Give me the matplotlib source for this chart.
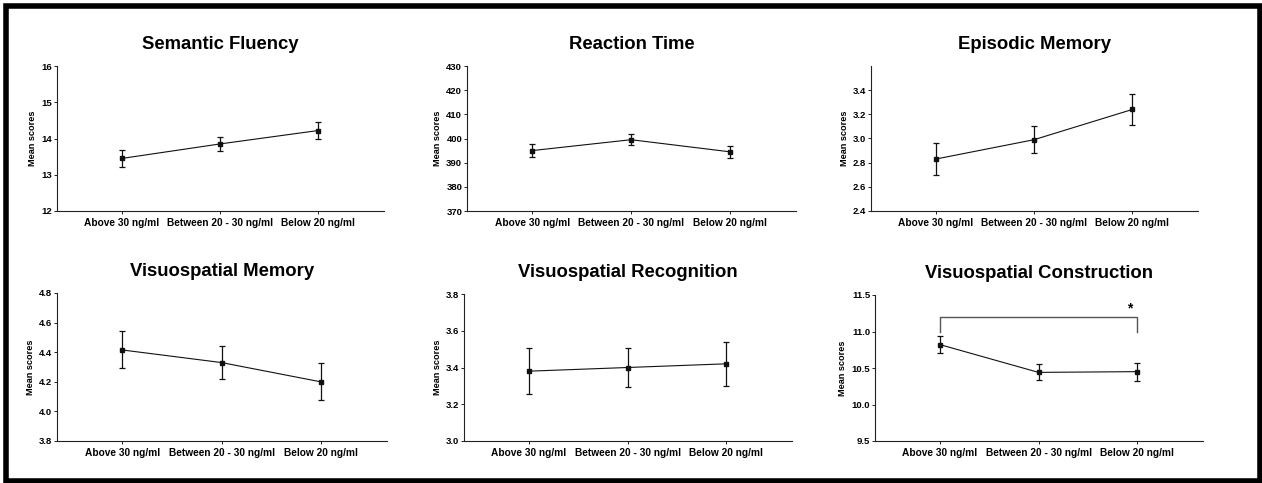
import matplotlib
matplotlib.use("Agg")
import matplotlib.pyplot as plt
from matplotlib.patches import Rectangle

plt.rcParams['font.family'] = ['Liberation Sans', 'DejaVu Sans']
plt.rcParams['font.weight'] = 'bold'

categories = ["Above 30 ng/ml", "Between 20 - 30 ng/ml", "Below 20 ng/ml"]

titles = ["Semantic Fluency", "Reaction Time", "Episodic Memory",
          "Visuospatial Memory", "Visuospatial Recognition", "Visuospatial Construction"]

semantic_mean = [13.45, 13.85, 14.22]
semantic_err = [0.23, 0.20, 0.23]
reaction_mean = [395.0, 399.5, 394.5]
reaction_err = [2.7, 2.3, 2.5]
episodic_mean = [2.83, 2.99, 3.24]
episodic_err = [0.13, 0.11, 0.125]
vsmem_mean = [4.415, 4.33, 4.20]
vsmem_err = [0.125, 0.11, 0.125]
vsrec_mean = [3.38, 3.40, 3.42]
vsrec_err = [0.125, 0.105, 0.12]
vscon_mean = [10.82, 10.44, 10.45]
vscon_err = [0.12, 0.11, 0.125]

means = [semantic_mean, reaction_mean, episodic_mean, vsmem_mean, vsrec_mean, vscon_mean]
errs = [semantic_err, reaction_err, episodic_err, vsmem_err, vsrec_err, vscon_err]

ylims = [(12, 16), (370, 430), (2.4, 3.6), (3.8, 4.8), (3.0, 3.8), (9.5, 11.5)]
yticks = [[12, 13, 14, 15, 16],
          [370, 380, 390, 400, 410, 420, 430],
          [2.4, 2.6, 2.8, 3.0, 3.2, 3.4],
          [3.8, 4.0, 4.2, 4.4, 4.6, 4.8],
          [3.0, 3.2, 3.4, 3.6, 3.8],
          [9.5, 10.0, 10.5, 11.0, 11.5]]
ytickfmt = ["{:.0f}", "{:.0f}", "{:.1f}", "{:.1f}", "{:.1f}", "{:.1f}"]

# significance bracket for Visuospatial Construction
sig_bracket_y = 11.2
sig_bracket_bottom = 11.0
sig_label = "*"

W, H = 1262, 483
fig = plt.figure(figsize=(W / 100, H / 100), dpi=100)

# axes boxes in pixels: (left, top, right, bottom)
boxes = [(57, 66, 384, 211), (467, 66, 796, 211), (871, 66, 1198, 211),
         (57, 293, 387, 441), (464, 294, 792, 441), (875, 295, 1203, 441)]

axc = '#222222'
for i, (l, t, r, b) in enumerate(boxes):
    ax = fig.add_axes([l / W, 1 - b / H, (r - l) / W, (b - t) / H])
    x = list(range(len(categories)))
    ax.errorbar(x, means[i], yerr=errs[i], color='#111111', lw=0.8, elinewidth=0.9,
                capsize=2, capthick=0.9, marker='s', markersize=2.2)
    ax.set_xlim(-0.66, 2.67)
    ax.set_ylim(*ylims[i])
    ax.set_yticks(yticks[i])
    ax.set_yticklabels([ytickfmt[i].format(v) for v in yticks[i]], fontsize=6.8, fontweight='bold')
    ax.set_xticks(x)
    ax.set_xticklabels(categories, fontsize=7.3, fontweight='bold')
    ax.spines['top'].set_visible(False)
    ax.spines['right'].set_visible(False)
    for s in ('left', 'bottom'):
        ax.spines[s].set_linewidth(0.8)
        ax.spines[s].set_color(axc)
    ax.tick_params(axis='y', length=2.5, width=0.7, pad=1, color=axc)
    ax.tick_params(axis='x', length=2.5, width=0.7, pad=2.5, color=axc)
    ax.set_ylabel("Mean scores", fontsize=6.6, fontweight='bold', labelpad=3)
    ax.set_title(titles[i], fontsize=13.3, fontweight='bold', pad=12)
    if i == 5:
        ax.plot([0, 0, 2, 2], [sig_bracket_bottom, sig_bracket_y, sig_bracket_y, sig_bracket_bottom],
                color='#555555', lw=1.0)
        ax.text(1.93, sig_bracket_y + 0.02, sig_label, ha='center', va='bottom',
                fontsize=10, fontweight='bold')

# outer frame
fig.patches.append(Rectangle((5.5 / W, 2.5 / H), (1259.5 - 5.5) / W, (480.5 - 5.5) / H,
                             transform=fig.transFigure, fill=False, lw=4, edgecolor='black'))

fig.savefig("out.png", dpi=100)
